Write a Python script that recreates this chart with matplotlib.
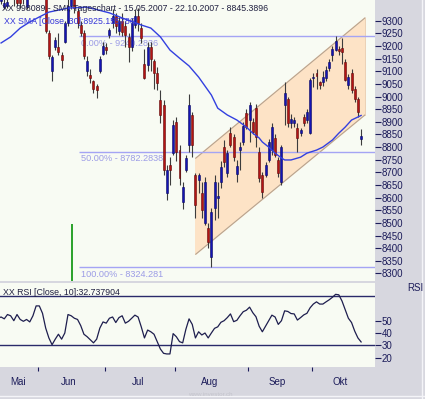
import matplotlib
matplotlib.use("Agg")
import matplotlib.pyplot as plt
import numpy as np

plt.rcParams['font.family'] = ['Liberation Sans', 'DejaVu Sans']

# ---------------- data ----------------
opens = [9400, 9380, 9355, 9360, 9400, 9410, 9395, 9400, 9390, 9355,
         9400, 9420, 9440, 9470, 9500, 9400, 9250, 9100, 9196, 9196,
         9164, 9216, 9290, 9360, 9400, 9340, 9285, 9250, 9100, 9085,
         9060, 9040, 9100, 9170, 9195, 9245, 9290, 9320, 9260, 9300,
         9280, 9235, 9195, 9285, 9320, 9270, 9130, 9125, 9196, 9140,
         9095, 8986, 8966, 8618, 8730, 8776, 8899, 8788, 8582, 8709,
         8808, 8927, 8689, 8669, 8618, 8499, 8479, 8365, 8560, 8600,
         8662, 8800, 8697, 8855, 8840, 8693, 8790, 8820, 8934, 8907,
         8899, 8954, 8780, 8689, 8689, 8749, 8788, 8836, 8749, 8661,
         8966, 8990, 8895, 8895, 8875, 8855, 8920, 8907, 8855, 9073,
         9092, 9057, 9057, 9073, 9112, 9165, 9184, 9190, 9192, 9137,
         9045, 9093, 9030, 8990, 8830]
highs = [9420, 9420, 9390, 9395, 9440, 9430, 9410, 9420, 9420, 9400,
         9450, 9470, 9490, 9530, 9520, 9410, 9265, 9165, 9235, 9250,
         9176, 9300, 9400, 9420, 9420, 9350, 9300, 9265, 9160, 9110,
         9065, 9050, 9160, 9215, 9210, 9270, 9345, 9330, 9315, 9330,
         9300, 9250, 9310, 9345, 9350, 9290, 9190, 9215, 9215, 9150,
         9115, 9026, 8986, 8730, 8760, 8907, 8920, 8810, 8660, 8770,
         9010, 8940, 8697, 8697, 8662, 8680, 8500, 8560, 8690, 8660,
         8745, 8828, 8790, 8880, 8850, 8749, 8820, 8900, 8950, 8978,
         8915, 8970, 8800, 8700, 8740, 8830, 8895, 8850, 8760, 8810,
         9057, 9000, 8930, 8920, 8895, 8875, 8930, 8950, 9075, 9093,
         9110, 9060, 9100, 9120, 9150, 9200, 9240, 9200, 9230, 9150,
         9090, 9110, 9040, 9000, 8870]
lows = [9360, 9365, 9345, 9350, 9390, 9360, 9360, 9350, 9365, 9345,
        9390, 9400, 9420, 9450, 9420, 9250, 9150, 9060, 9185, 9165,
        9112, 9210, 9280, 9345, 9330, 9270, 9240, 9150, 9080, 9055,
        9015, 8995, 9095, 9165, 9170, 9230, 9270, 9250, 9245, 9240,
        9195, 9135, 9180, 9270, 9260, 9210, 9070, 9100, 9100, 9030,
        9025, 8895, 8690, 8590, 8650, 8768, 8745, 8650, 8555, 8700,
        8780, 8760, 8520, 8618, 8520, 8490, 8400, 8324, 8510, 8520,
        8640, 8721, 8680, 8800, 8745, 8660, 8710, 8810, 8870, 8820,
        8850, 8800, 8660, 8600, 8680, 8740, 8770, 8760, 8680, 8650,
        8887, 8880, 8875, 8880, 8780, 8845, 8885, 8895, 8850, 9038,
        9030, 9030, 9040, 9060, 9100, 9140, 9180, 9165, 9130, 9060,
        9030, 9015, 8980, 8920, 8810]
closes = [9390, 9400, 9370, 9375, 9420, 9395, 9370, 9370, 9400, 9385,
          9420, 9440, 9460, 9500, 9450, 9260, 9160, 9155, 9224, 9176,
          9144, 9291, 9360, 9390, 9350, 9290, 9250, 9160, 9140, 9075,
          9030, 9025, 9150, 9200, 9185, 9265, 9320, 9280, 9300, 9255,
          9245, 9195, 9290, 9320, 9290, 9230, 9075, 9196, 9150, 9093,
          9055, 8926, 8709, 8709, 8709, 8887, 8780, 8677, 8642, 8757,
          8966, 8808, 8570, 8689, 8551, 8662, 8424, 8543, 8660, 8605,
          8721, 8741, 8776, 8808, 8760, 8725, 8800, 8883, 8879, 8966,
          8860, 8840, 8677, 8622, 8729, 8820, 8879, 8768, 8697, 8800,
          9014, 8895, 8910, 8907, 8836, 8867, 8895, 8938, 9065, 9075,
          9080, 9045, 9077, 9105, 9136, 9188, 9220, 9180, 9176, 9065,
          9076, 9026, 8990, 8938, 8845.3896]

rsi = [52, 53, 51.5, 55, 54, 50, 55, 51, 49.5, 51,
       49, 54, 62, 62, 56, 44, 36, 30.5, 35, 39,
       35, 40, 55, 54, 52, 51, 46, 39, 37, 34.5,
       32, 35, 44, 49, 48, 52, 53, 48.5, 52.5, 54,
       48, 49.5, 52, 54.5, 53, 45, 36, 42.4, 41, 39,
       33, 27, 23.5, 23, 23, 39.5, 37, 33, 32, 43,
       51.5, 47, 36, 41, 38.4, 40, 36, 40, 43.8, 45,
       48.7, 50, 52.5, 55.5, 49.2, 50.3, 54, 57.3, 58.5, 61,
       56.5, 53.2, 45.5, 41, 45.5, 50, 54.5, 53, 47, 50,
       58, 57.5, 55.8, 55.5, 50.5, 52.5, 54.7, 56, 60.5, 63.5,
       65.3, 63.5, 63.5, 65.3, 67, 69, 71.4, 71, 66, 59,
       52, 48.5, 41.5, 36, 32.737904]

sma_day = [1, 4, 7, 10, 13, 16, 22, 28, 35, 39, 45, 48, 51, 54, 57, 60, 63,
           67, 69, 72, 75, 78, 80, 82, 83, 85, 87, 89, 90, 92, 95, 97, 100,
           102, 105, 107, 109, 111, 113, 114]
sma_val = [9212, 9236, 9271, 9295, 9315, 9334, 9350, 9354, 9331, 9311, 9283,
           9271, 9236, 9184, 9152, 9121, 9077, 9006, 8954, 8927, 8907, 8879,
           8855, 8836, 8820, 8800, 8776, 8757, 8749, 8749, 8760, 8776, 8788,
           8800, 8828, 8855, 8879, 8907, 8919, 8925.155786]

fib_levels = [9240.2836, 8782.2838, 8324.281]
fib_labels = ["0.00% - 9240.2836", "50.00% - 8782.2838", "100.00% - 8324.281"]
fib_start_day = 25.5

channel_days = [62.1, 115.2]
channel_upper = [8756, 9311]
channel_lower = [8376, 8927]

marker_day = 23.3
marker_top = 8495

month_bounds = [12.5, 33.5, 55.5, 78.5, 98.5]
month_centers = [6.3, 22.3, 44.0, 66.3, 87.6, 107.4]
month_names = ["Mai", "Jun", "Jul", "Aug", "Sep", "Okt"]

price_ticks = list(range(8300, 9301, 50))
rsi_ticks = [20, 30, 40, 50]
rsi_levels = [30, 70]

title = "XX 998089 - SMI, Tageschart - 15.05.2007 - 22.10.2007 - 8845.3896"
sma_text = "XX SMA [Close, 30]:8925.155786"
rsi_text = "XX RSI [Close, 10]:32.737904"

# ---------------- figure ----------------
W, H = 425, 399
fig = plt.figure(figsize=(W / 100, H / 100), dpi=100, facecolor='#d7d7df')


def rect(x0, y0, x1, y1):
    return [x0 / W, 1 - y1 / H, (x1 - x0) / W, (y1 - y0) / H]


BG = '#f8fbf3'
NAVY = '#1c1c5a'
ax = fig.add_axes(rect(0, 0, 375, 281), facecolor=BG)
rax = fig.add_axes(rect(0, 283, 375, 367), facecolor=BG)

xmin, xmax = 0.66, 118.36
for a in (ax, rax):
    a.set_xlim(xmin, xmax)
    for s in a.spines.values():
        s.set_visible(False)

ax.set_ylim(8270, 9382)

# channel
poly_x = [channel_days[0], channel_days[1], channel_days[1], channel_days[0]]
poly_y = [channel_lower[0], channel_lower[1], channel_upper[1], channel_upper[0]]
ax.fill(poly_x, poly_y, color='#fde3c6', zorder=1)
ax.plot(channel_days, channel_upper, color='#b7a38f', lw=0.8, zorder=1.5)
ax.plot(channel_days, channel_lower, color='#b7a38f', lw=0.8, zorder=1.5)
ax.plot([channel_days[1], channel_days[1]], [channel_lower[1], channel_upper[1]],
        color='#e8cdb0', lw=0.6, zorder=1.5)

# fibonacci
for lvl, lab in zip(fib_levels, fib_labels):
    ax.hlines(lvl, fib_start_day, xmax, color='#a4a4f4', lw=1.0, zorder=2)
    ax.annotate(lab, xy=(fib_start_day, lvl), xytext=(1, -2),
                textcoords='offset points', ha='left', va='top',
                fontsize=6.6, color='#9c9ce6', zorder=2)

# green marker
ax.vlines(marker_day, 8270, marker_top, color='#1a9a1a', lw=1.3, zorder=2)

# candles
x = np.arange(len(closes))
o = np.array(opens, float)
c = np.array(closes, float)
h = np.array(highs, float)
l = np.array(lows, float)
up = c >= o
ax.vlines(x, l, h, color='#3c3c3c', lw=0.8, zorder=3)
body_lo = np.minimum(o, c)
body_h = np.maximum(np.abs(c - o), 3)
ax.bar(x[up], body_h[up], bottom=body_lo[up], width=0.62, color='#1414b4',
       edgecolor='#0a0a60', lw=0.4, zorder=4)
ax.bar(x[~up], body_h[~up], bottom=body_lo[~up], width=0.62, color='#b41414',
       edgecolor='#600a0a', lw=0.4, zorder=4)

# SMA
ax.plot(sma_day, sma_val, color='#3340e0', lw=1.0, zorder=5)

# titles
ax.text(0.005, 0.985, title, transform=ax.transAxes, ha='left', va='top',
        fontsize=6.3, color='#202040', zorder=6)
ax.text(0.012, 0.94, sma_text, transform=ax.transAxes, ha='left', va='top',
        fontsize=6.3, color='#3535d8', zorder=6)

# price axis
ax.yaxis.tick_right()
ax.set_yticks(price_ticks)
ax.set_yticklabels([str(t) for t in price_ticks])
ax.tick_params(axis='y', length=4, width=0.8, color=NAVY, pad=1,
               labelsize=7, labelcolor=NAVY)
ax.set_xticks([])

# RSI panel
rax.set_ylim(12.4, 80.6)
rax.plot(x, rsi, color='#1e1e4e', lw=0.9, zorder=3)
for lv in rsi_levels:
    rax.axhline(lv, color='#2a2a6a', lw=1.0, zorder=2)
rax.yaxis.tick_right()
rax.set_yticks(rsi_ticks)
rax.set_yticklabels([str(t) for t in rsi_ticks])
rax.tick_params(axis='y', length=4, width=0.8, color=NAVY, pad=1,
                labelsize=7, labelcolor=NAVY)
rax.set_xticks(month_bounds)
rax.set_xticklabels([])
rax.set_xticks(month_centers, minor=True)
rax.set_xticklabels(month_names, minor=True)
rax.tick_params(axis='x', which='major', length=3, width=0.8, color=NAVY,
                direction='out')
rax.tick_params(axis='x', which='minor', length=0, pad=7, labelsize=7,
                labelcolor=NAVY)
rax.text(0.008, 0.94, rsi_text, transform=rax.transAxes, ha='left', va='top',
         fontsize=6.3, color='#202040')
fig.text(423 / W, 1 - 288 / H, "RSI", ha='right', va='center', fontsize=7,
         color=NAVY)

# watermark and frame
fig.text(210 / W, 1 - 394 / H, "www.investor.ch", ha='center', va='center',
         fontsize=4.5, color='#c4c4cc')
fig.add_artist(plt.Line2D([422 / W, 422 / W], [0, 1], color='#f4f4f8', lw=1,
                          transform=fig.transFigure))
fig.add_artist(plt.Line2D([0, 1], [3 / H, 3 / H], color='#f4f4f8', lw=1,
                          transform=fig.transFigure))

fig.savefig("out.png", dpi=100, facecolor=fig.get_facecolor())
